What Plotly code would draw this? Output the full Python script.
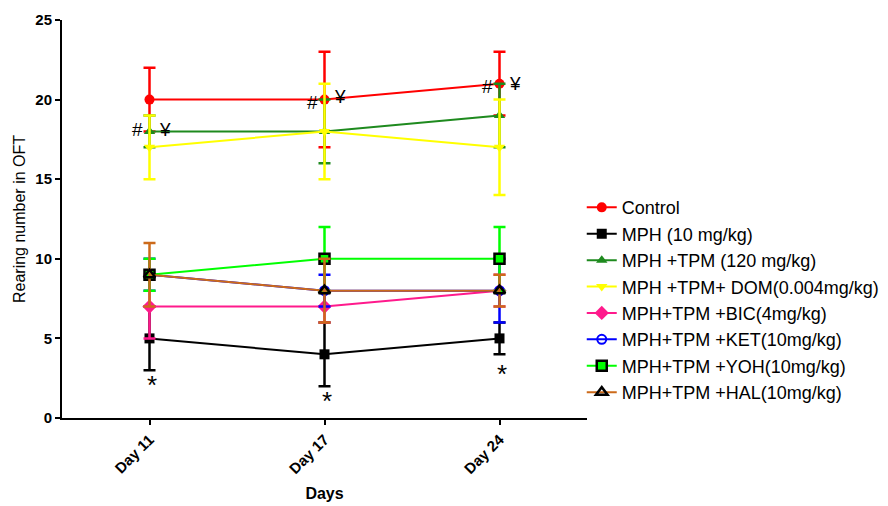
import plotly.graph_objects as go

days = ["Day 11", "Day 17", "Day 24"]

names = ["Control", "MPH (10 mg/kg)", "MPH +TPM (120 mg/kg)", "MPH +TPM+ DOM(0.004mg/kg)",
         "MPH+TPM +BIC(4mg/kg)", "MPH+TPM +KET(10mg/kg)", "MPH+TPM +YOH(10mg/kg)",
         "MPH+TPM +HAL(10mg/kg)"]

control = [20, 20, 21]
control_err = [2, 3, 2]
mph = [5, 4, 5]
mph_err = [2, 2, 1]
tpm = [18, 18, 19]
tpm_err = [1, 2, 2]
dom = [17, 18, 17]
dom_err = [2, 3, 3]
bic = [7, 7, 8]
bic_err = [2, 1, 1]
ket = [9, 8, 8]
ket_err = [1, 1, 2]
yoh = [9, 10, 10]
yoh_err = [1, 2, 2]
hal = [9, 8, 8]
hal_err = [2, 2, 1]

values = [control, mph, tpm, dom, bic, ket, yoh, hal]
errors = [control_err, mph_err, tpm_err, dom_err, bic_err, ket_err, yoh_err, hal_err]

colors = ["#FF0000", "#000000", "#1E8A1E", "#FFFF00", "#FF1A8C", "#0000FF", "#00FF00", "#CC6A1A"]
symbols = ["circle", "square", "triangle-up", "triangle-down", "diamond", "circle-open",
           "square", "triangle-up-open"]
mfill = ["#FF0000", "#000000", "#1E8A1E", "#FFFF00", "#FF1A8C", "#0000FF", "#00FF00", "#000000"]
mline = ["#FF0000", "#000000", "#1E8A1E", "#FFFF00", "#FF1A8C", "#0000FF", "#000000", "#000000"]
mlw = [0, 0, 0, 0, 0, 2, 2.5, 2.5]
msize = [10, 10, 10, 10, 11, 9, 10, 10]

sig_hash = [18.1, 19.8, 20.8]
sig_yen = [18.1, 20.2, 21.0]
sig_star = [2.3, 1.3, 3.0]

fnt = "Liberation Sans, Arial, sans-serif"

fig = go.Figure()
for i in range(len(names)):
    fig.add_trace(go.Scatter(
        x=days, y=values[i], name=names[i], mode="lines+markers",
        line=dict(color=colors[i], width=2),
        marker=dict(symbol=symbols[i], size=msize[i], color=mfill[i],
                    line=dict(color=mline[i], width=mlw[i])),
        error_y=dict(type="data", array=errors[i], visible=True,
                     color=colors[i], thickness=2.5, width=6),
    ))

for i, d in enumerate(days):
    fig.add_annotation(x=d, y=sig_hash[i], text="#", showarrow=False, xshift=-12,
                       font=dict(family=fnt, size=19, color="black"))
    fig.add_annotation(x=d, y=sig_yen[i], text="¥", showarrow=False, xshift=15,
                       font=dict(family=fnt, size=19, color="black"))
    fig.add_annotation(x=d, y=sig_star[i], text="*", showarrow=False, xshift=2, yshift=-4,
                       font=dict(family=fnt, size=26, color="black"))

fig.update_layout(
    width=888, height=506,
    margin=dict(l=62, r=301, t=20, b=88, autoexpand=False),
    paper_bgcolor="white", plot_bgcolor="white",
    font=dict(family=fnt, color="black"),
    showlegend=True,
    legend=dict(x=0.99, xanchor="left", y=0.575, yanchor="top",
                font=dict(family=fnt, size=18, color="black"),
                tracegroupgap=0, itemsizing="trace", bgcolor="rgba(0,0,0,0)"),
    xaxis=dict(type="category", categoryorder="array", categoryarray=days,
               range=[-0.5, 2.5], showline=True, linecolor="black", linewidth=2,
               ticks="outside", ticklen=5, tickwidth=2, tickcolor="black",
               tickangle=-45, showgrid=False, zeroline=False, automargin=False,
               tickfont=dict(family=fnt, size=15, weight="bold"),
               title=dict(text="<b>Days</b>", font=dict(family=fnt, size=16), standoff=12)),
    yaxis=dict(range=[0, 25], dtick=5, showline=True, linecolor="black", linewidth=2,
               ticks="outside", ticklen=5, tickwidth=2, tickcolor="black",
               showgrid=False, zeroline=False, automargin=False,
               tickfont=dict(family=fnt, size=15, weight="bold"),
               title=dict(text="Rearing number in OFT", font=dict(family=fnt, size=16), standoff=6)),
)

fig.write_html("out.html")
